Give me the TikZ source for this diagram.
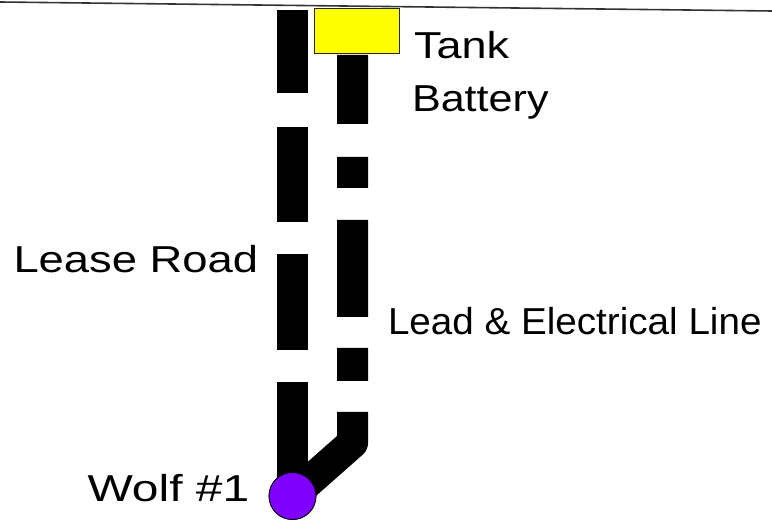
\documentclass[tikz,border=0pt]{standalone}
\usepackage{fontspec}
\setmainfont{Liberation Sans}
\definecolor{wolfpurple}{RGB}{128,0,255}
\definecolor{tankyellow}{RGB}{255,255,0}
\begin{document}
\begin{tikzpicture}[x=1pt,y=-1pt,
  lbl/.style={inner sep=0pt,outer sep=0pt,anchor=base west,font=\fontsize{37.5}{44}\selectfont},
  road/.style={line width=31pt,line cap=butt,black,
    dash pattern=on 83pt off 34pt on 95pt off 32pt on 96pt off 32pt on 200pt off 1pt},
  lead/.style={line width=31pt,line cap=butt,line join=round,black,
    dash pattern=on 69pt off 33pt on 31pt off 32pt on 97pt off 31pt on 33pt off 31pt on 300pt off 1pt},
  tankbox/.style={draw=black!85,line width=0.8pt,fill=tankyellow,minimum width=85pt,minimum height=45pt,inner sep=0pt},
  wellpt/.style={circle,draw=black,line width=0.8pt,fill=wolfpurple,minimum size=47pt,inner sep=0pt}
]
\useasboundingbox (0,0) rectangle (772,521);
% top border line
\coordinate (tl) at (0,2);
\coordinate (tr) at (772,11);
\draw[black!80,line width=1.6pt] (tl) -- (tr);
% nodes
\node[wellpt] (wolf) at (292.5,496) {};
\node[tankbox] (tank) at (356.5,30.5) {};
\coordinate (roadtop) at (292.5,10);
\coordinate (leadtop) at (352.5,55);
\coordinate (leadbend) at (352.5,443);
% lease road
\draw[road] (roadtop) -- (wolf.center);
% lead & electrical line
\draw[lead] (leadtop) -- (leadbend) -- (wolf.center);
% redraw well on top
\node[wellpt] at (wolf.center) {};
% labels
\node[lbl] (ltank) at (414,59) {\scalebox{1.2}[1]{Tank}};
\node[lbl] (lbatt) at (412,112) {\scalebox{1.15}[1]{Battery}};
\node[lbl] (lroad) at (13.5,273) {\scalebox{1.21}[1]{Lease Road}};
\node[lbl] (llead) at (388,335) {\scalebox{1.03}[1]{Lead \& Electrical Line}};
\node[lbl] (lwolf) at (87.5,502) {\scalebox{1.28}[1]{Wolf \#1}};
\end{tikzpicture}
\end{document}
